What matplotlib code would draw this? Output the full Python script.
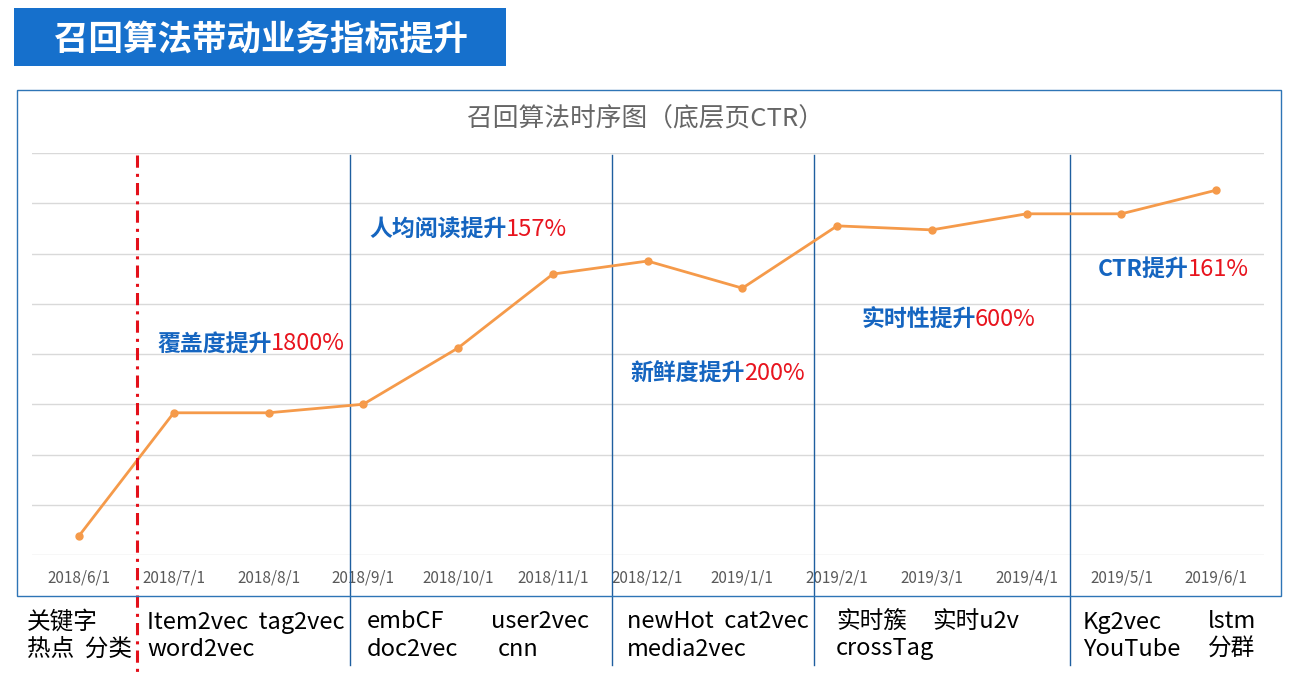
import matplotlib
matplotlib.use("Agg")
import matplotlib.pyplot as plt
from matplotlib.patches import Rectangle
from matplotlib.transforms import blended_transform_factory

plt.rcParams['font.family'] = ['Noto Sans CJK SC', 'DejaVu Sans']

# ---- data ----
months = ["2018/6/1", "2018/7/1", "2018/8/1", "2018/9/1", "2018/10/1", "2018/11/1",
          "2018/12/1", "2019/1/1", "2019/2/1", "2019/3/1", "2019/4/1", "2019/5/1", "2019/6/1"]
ctr = [0.38, 2.83, 2.83, 3.0, 4.12, 5.59, 5.85, 5.31, 6.55, 6.47, 6.79, 6.79, 7.26]
gain_names = ["覆盖度提升", "人均阅读提升", "新鲜度提升", "实时性提升", "CTR提升"]
gain_values = ["1800%", "157%", "200%", "600%", "161%"]
algo_line1 = ["关键字", "Item2vec  tag2vec", "embCF", "user2vec", "newHot  cat2vec",
              "实时簇", "实时u2v", "Kg2vec", "lstm"]
algo_line2 = ["热点  分类", "word2vec", "doc2vec", "cnn", "media2vec",
              "crossTag", "YouTube", "分群"]

W, H = 1293, 675
fig = plt.figure(figsize=(W / 100, H / 100), dpi=100)
fig.patch.set_facecolor("white")

def fx(px):
    return px / W

def fy(py):
    return 1 - py / H

# banner
fig.patches.append(Rectangle((fx(14), fy(66)), fx(506) - fx(14), fy(8) - fy(66),
                             transform=fig.transFigure, facecolor="#1670CC",
                             edgecolor="none", zorder=0))
fig.text(fx(261), fy(39), "召回算法带动业务指标提升", color="white", fontsize=24.8,
         fontweight="bold", ha="center", va="center")

# chart frame
fig.patches.append(Rectangle((fx(17), fy(596)), fx(1281) - fx(17), fy(90) - fy(596),
                             transform=fig.transFigure, facecolor="none",
                             edgecolor="#2E75B6", lw=1.0, zorder=0))
fig.text(fx(646), fy(120), "召回算法时序图（底层页CTR）", color="#666666", fontsize=18.5,
         fontweight="light", ha="center", va="center")

# axes
left, right, top, bottom = 31.6, 1263.6, 153, 555
ax = fig.add_axes([fx(left), fy(bottom), fx(right) - fx(left), fy(top) - fy(bottom)])
ax.set_facecolor("none")
x = list(range(len(months)))
ax.plot(x, ctr, color="#F59A4A", lw=2.0, marker="o", markersize=5, zorder=3)
ax.set_xlim(-0.5, len(months) - 0.5)
ax.set_ylim(0, 8)
ax.set_yticks(range(0, 9))
ax.set_yticklabels([])
ax.tick_params(axis="y", length=0)
ax.grid(axis="y", color="#D9D9D9", lw=1)
ax.set_axisbelow(True)
ax.set_xticks(x)
ax.set_xticklabels(months, color="#595959", fontsize=11)
ax.tick_params(axis="x", length=0, pad=10.5)
for s in ax.spines.values():
    s.set_visible(False)

# vertical separators
tr = blended_transform_factory(ax.transData, fig.transFigure)
for xd in [2.86, 5.625, 7.757, 10.459]:
    ax.plot([xd, xd], [fy(155), fy(665)], transform=tr, color="#1F5F9F", lw=1.0,
            clip_on=False, zorder=2)
ax.plot([0.612, 0.612], [fy(155), fy(672)], transform=tr, color="#E3101A", lw=2.2,
        linestyle=(0, (4, 2, 1, 2)), clip_on=False, zorder=4)

# gain annotations
gain_pos = [(157, 344), (369, 229), (630, 374), (861, 319), (1098, 269)]
for (px, py), name, val in zip(gain_pos, gain_names, gain_values):
    t1 = ax.text(fx(px), fy(py), name, color="#1565C0", fontsize=16.5,
                 fontweight="bold", ha="left", va="center", transform=fig.transFigure)
    ax.annotate(val, xy=(1, 0.5), xycoords=t1, xytext=(-0.5, 0), textcoords="offset points",
                color="#E8141E", fontsize=17, ha="left", va="center", annotation_clip=False)

# algorithm labels below
pos1 = [27, 147, 367, 491, 627, 836, 932, 1083, 1208]
pos2 = [27, 147, 367, 498, 627, 836, 1083, 1208]
for px, s in zip(pos1, algo_line1):
    fig.text(fx(px), fy(622), s, fontsize=17, color="black", ha="left", va="center")
for px, s in zip(pos2, algo_line2):
    fig.text(fx(px), fy(649), s, fontsize=17, color="black", ha="left", va="center")

fig.savefig("out.png", dpi=100)
